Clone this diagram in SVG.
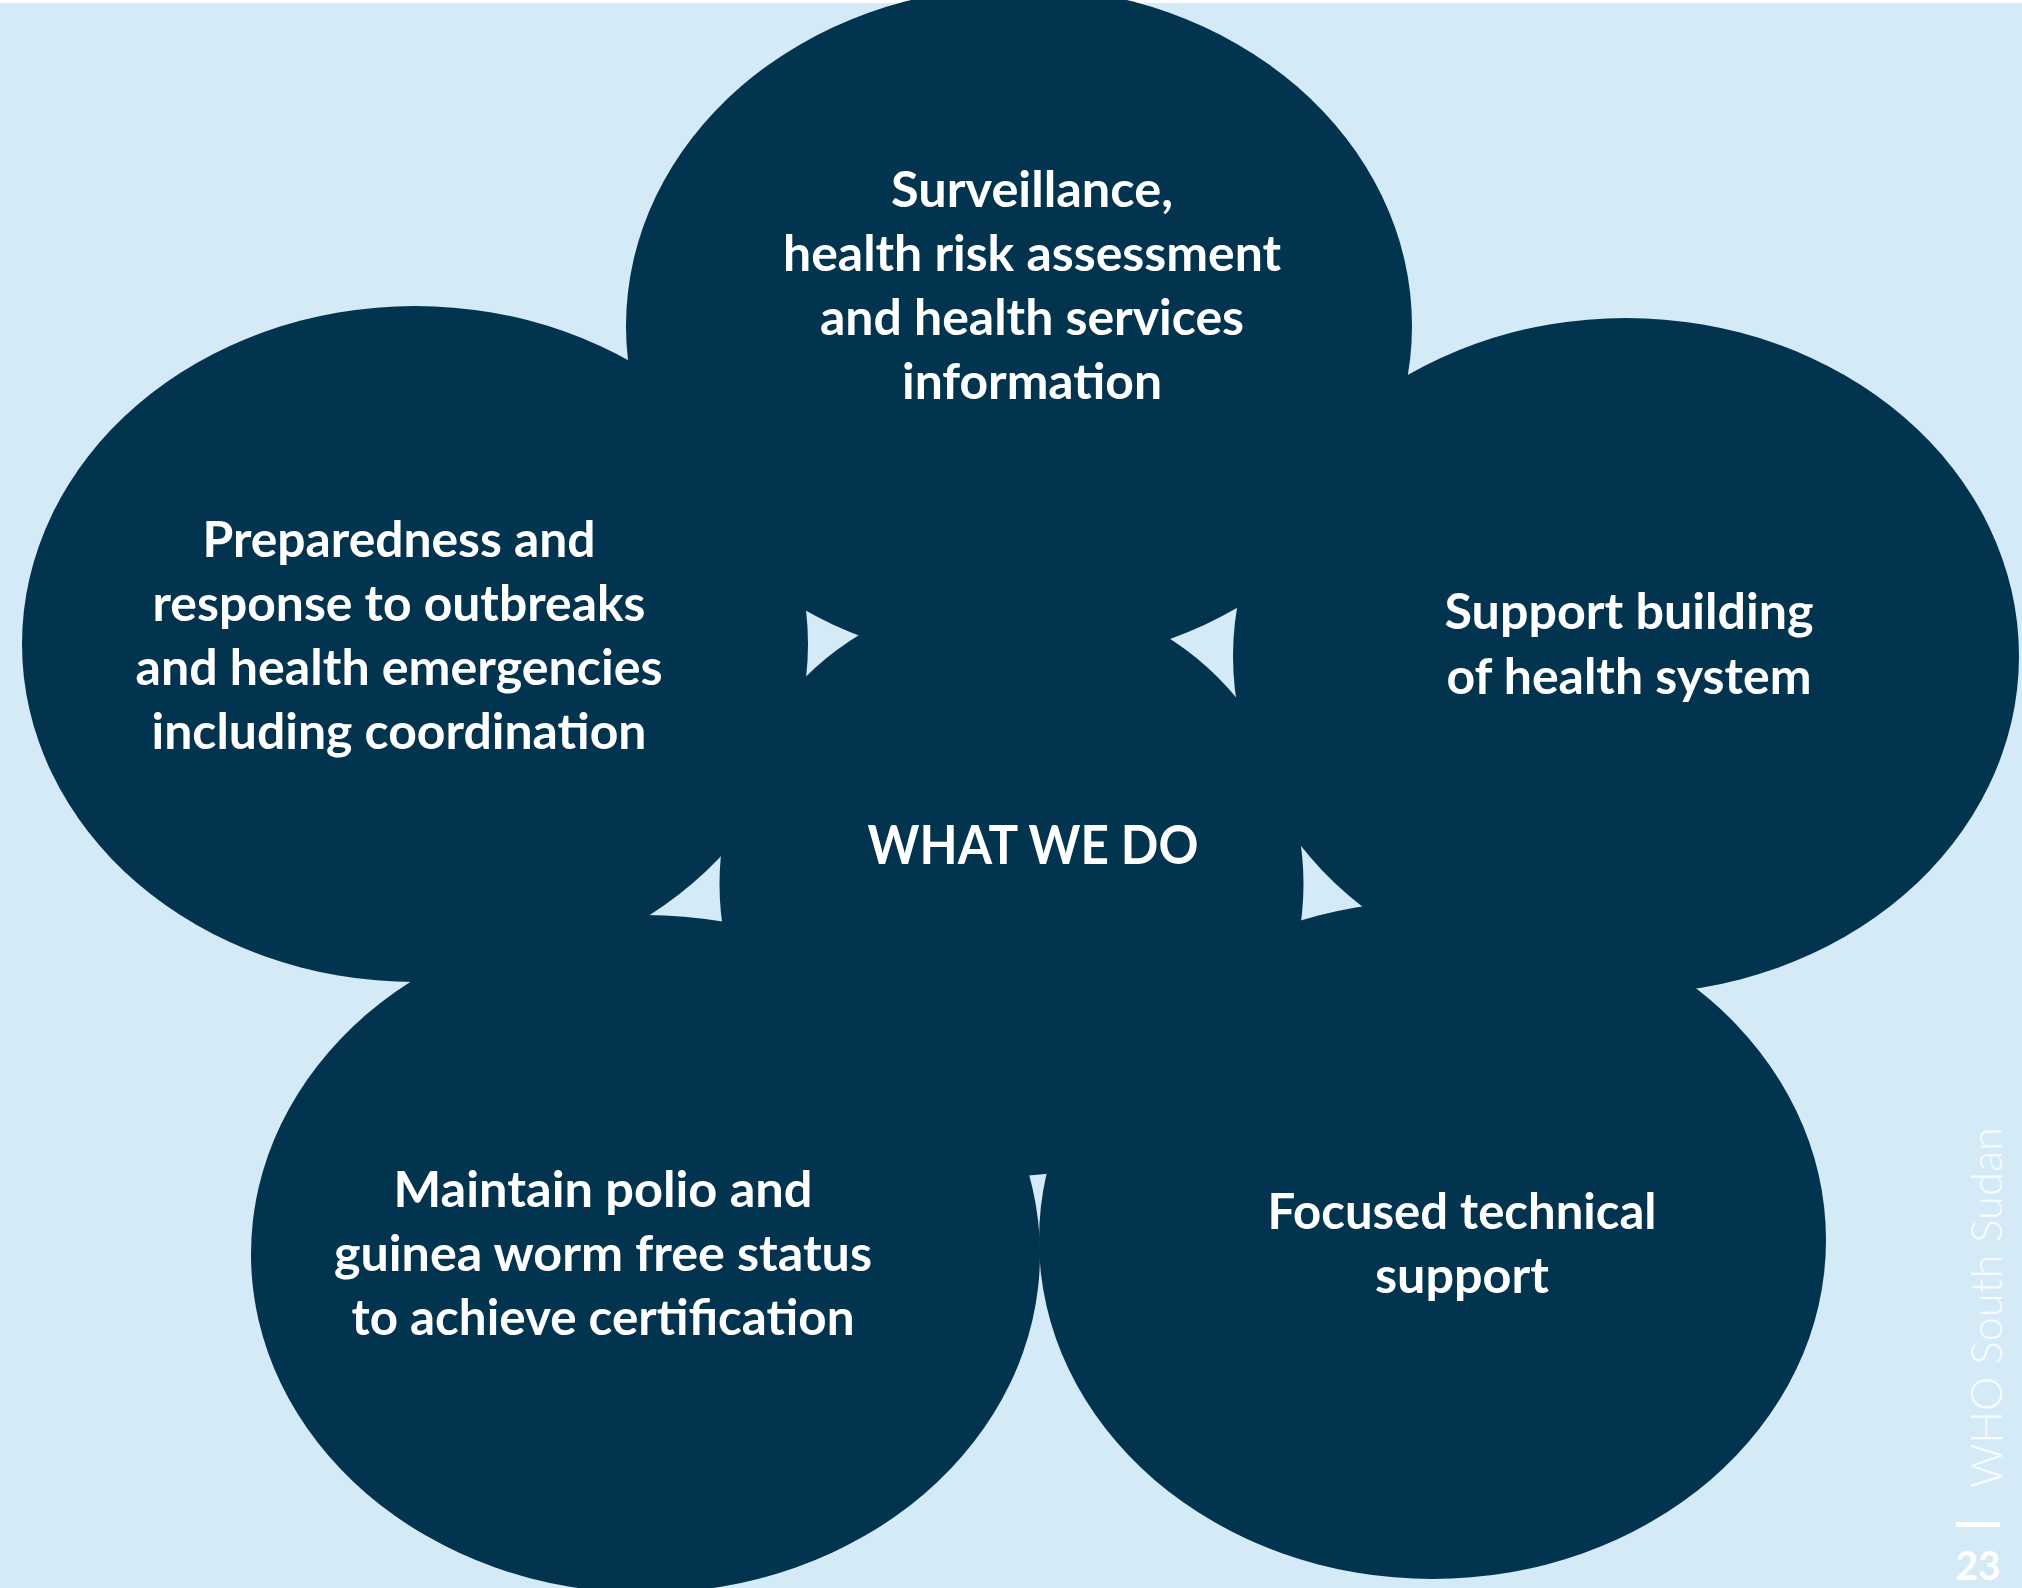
<svg xmlns="http://www.w3.org/2000/svg" width="2022" height="1588" viewBox="0 0 2022 1588">
<style>
.petal{fill:#02344f}
.lbl{font-family:Lato,"Open Sans","Liberation Sans",sans-serif;font-weight:700;font-size:49px;fill:#ffffff;text-anchor:middle}
.ctr{font-size:53px}
.side{font-family:Lato,"Open Sans","Liberation Sans",sans-serif;font-weight:300;font-size:44px;fill:#ffffff;fill-opacity:0.9}
.pg{font-family:Lato,"Open Sans","Liberation Sans",sans-serif;font-weight:700;font-size:41px;fill:#ffffff}
</style>
<rect x="0" y="0" width="2022" height="1588" fill="#ffffff"/>
<rect x="0" y="3" width="2022" height="1585" fill="#d4eaf7"/>
<g id="node-top">
<ellipse class="petal" cx="1019" cy="326" rx="393" ry="339"/>
<text class="lbl" x="1032" y="207" textLength="282" lengthAdjust="spacingAndGlyphs">Surveillance,</text>
<text class="lbl" x="1032" y="271" textLength="498" lengthAdjust="spacingAndGlyphs">health risk assessment</text>
<text class="lbl" x="1032" y="335" textLength="424" lengthAdjust="spacingAndGlyphs">and health services</text>
<text class="lbl" x="1032" y="399" textLength="260" lengthAdjust="spacingAndGlyphs">information</text>
</g>
<g id="node-left">
<ellipse class="petal" cx="415" cy="644" rx="393" ry="338"/>
<text class="lbl" x="399" y="557" textLength="393" lengthAdjust="spacingAndGlyphs">Preparedness and</text>
<text class="lbl" x="399" y="621" textLength="493" lengthAdjust="spacingAndGlyphs">response to outbreaks</text>
<text class="lbl" x="399" y="685" textLength="527" lengthAdjust="spacingAndGlyphs">and health emergencies</text>
<text class="lbl" x="399" y="749" textLength="495" lengthAdjust="spacingAndGlyphs">including coordination</text>
</g>
<g id="node-right">
<ellipse class="petal" cx="1626" cy="656" rx="393" ry="338"/>
<text class="lbl" x="1629" y="629" textLength="369" lengthAdjust="spacingAndGlyphs">Support building</text>
<text class="lbl" x="1629" y="694" textLength="365" lengthAdjust="spacingAndGlyphs">of health system</text>
</g>
<g id="node-bottom-left">
<ellipse class="petal" cx="645.5" cy="1254" rx="394.5" ry="339"/>
<text class="lbl" x="603" y="1207" textLength="419" lengthAdjust="spacingAndGlyphs">Maintain polio and</text>
<text class="lbl" x="603" y="1271" textLength="538" lengthAdjust="spacingAndGlyphs">guinea worm free status</text>
<text class="lbl" x="603" y="1335" textLength="503" lengthAdjust="spacingAndGlyphs">to achieve certification</text>
</g>
<g id="node-bottom-right">
<ellipse class="petal" cx="1432.5" cy="1240" rx="393.5" ry="339"/>
<text class="lbl" x="1462" y="1229" textLength="389" lengthAdjust="spacingAndGlyphs">Focused technical</text>
<text class="lbl" x="1462" y="1293" textLength="174" lengthAdjust="spacingAndGlyphs">support</text>
</g>
<g id="node-center">
<circle class="petal" cx="1011.5" cy="884" r="292"/>
<text class="lbl ctr" x="1033" y="864" textLength="331" lengthAdjust="spacingAndGlyphs">WHAT WE DO</text>
</g>
<g id="connectors"></g>
<g id="page-footer">
<text class="side" transform="translate(2002,1488) rotate(-90)" textLength="361" lengthAdjust="spacingAndGlyphs">WHO South Sudan</text>
<rect x="1956" y="1522" width="44" height="5" fill="#ffffff"/>
<text class="pg" x="1978" y="1580" text-anchor="middle" textLength="45" lengthAdjust="spacingAndGlyphs">23</text>
</g>
</svg>
